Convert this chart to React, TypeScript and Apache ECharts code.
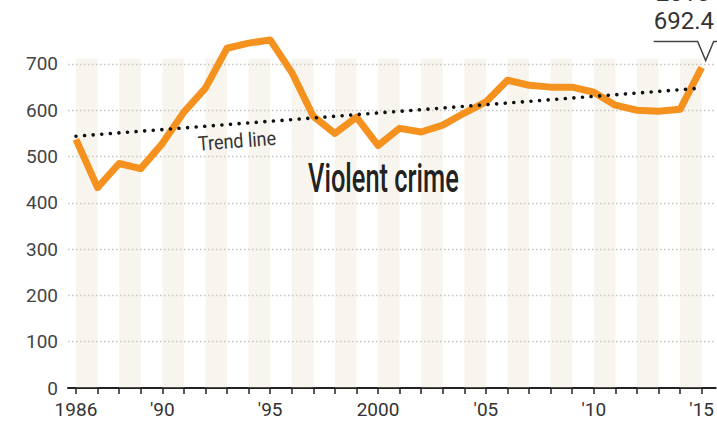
import React, { useEffect, useRef } from "react";
import * as echarts from "echarts";

const years = [
  1986, 1987, 1988, 1989, 1990, 1991, 1992, 1993, 1994, 1995,
  1996, 1997, 1998, 1999, 2000, 2001, 2002, 2003, 2004, 2005,
  2006, 2007, 2008, 2009, 2010, 2011, 2012, 2013, 2014, 2015,
];
const violentCrime = [
  537, 433, 485, 474, 528, 596, 648, 734, 745, 752,
  682, 587, 550, 585, 524, 561, 553, 568, 594, 618,
  665, 654, 650, 650, 639, 611, 600, 598, 602, 692.4,
];
const trendYears = [1986, 2015];
const trendValues = [544, 648];
const xLabelYears = [1986, 1990, 1995, 2000, 2005, 2010, 2015];
const bandStartYears = [1986, 1988, 1990, 1992, 1994, 1996, 1998, 2000, 2002, 2004, 2006, 2008, 2010, 2012, 2014];
const bandTopValue = 712;
const calloutYear = 2015;
const calloutValue = 692.4;

const FONT = '"Roboto", sans-serif';

export default function App() {
  const ref = useRef<HTMLDivElement>(null);
  useEffect(() => {
    if (!ref.current) return;
    const chart = echarts.init(ref.current, null, { renderer: "svg" });
    const option: any = {
      animation: false,
      backgroundColor: "#ffffff",
      grid: { left: 68, right: 0, top: 17.7, bottom: 36, containLabel: false },
      xAxis: {
        type: "value",
        min: 1985.63,
        max: 2015.65,
        axisLine: { show: true, lineStyle: { color: "#222", width: 2 } },
        axisTick: {
          show: true,
          customValues: years,
          length: 6,
          lineStyle: { color: "#222", width: 1.5 },
        },
        axisLabel: {
          customValues: xLabelYears,
          color: "#333",
          fontSize: 19,
          fontFamily: FONT,
          margin: 12,
          formatter: (v: number) =>
            v === 1986 || v === 2000 ? String(v) : "'" + String(v).slice(2),
        },
        splitLine: { show: false },
      },
      yAxis: {
        type: "value",
        min: 0,
        max: 800,
        interval: 100,
        axisLine: { show: false },
        axisTick: { show: false },
        axisLabel: {
          color: "#444",
          fontSize: 19,
          fontFamily: FONT,
          margin: 10,
          showMaxLabel: false,
        },
        splitLine: {
          show: true,
          showMaxLine: false,
          showMinLine: false,
          lineStyle: { color: "#c4c4c4", width: 1.3, type: [1.5, 2.5] },
        },
      },
      series: [
        {
          type: "line",
          name: "Violent crime",
          data: years.map((y, i) => [y, violentCrime[i]]),
          symbol: "none",
          lineStyle: { color: "#F5921F", width: 7, join: "round" },
          z: 3,
          markArea: {
            silent: true,
            itemStyle: { color: "rgba(221,212,184,0.24)" },
            data: bandStartYears.map((s) => [
              { xAxis: s, yAxis: 0 },
              { xAxis: s + 1, yAxis: bandTopValue },
            ]),
          },
        },
        {
          type: "line",
          name: "Trend line",
          data: trendYears.map((y, i) => [y, trendValues[i]]),
          symbol: "none",
          lineStyle: { color: "#111", width: 3.6, type: [0.01, 8.6], cap: "round" },
          z: 4,
        },
      ],
    };
    chart.setOption(option);
    const p = chart.convertToPixel({ gridIndex: 0 }, [calloutYear, calloutValue]) as number[];
    const tipX = p[0] + 4;
    const tipY = p[1] - 7;
    const armY = tipY - 19;
    chart.setOption({
      graphic: [
        {
          type: "polyline",
          shape: {
            points: [
              [tipX - 52, armY],
              [tipX - 8, armY],
              [tipX, tipY],
              [tipX + 8, armY],
              [tipX + 40, armY],
            ],
          },
          style: { stroke: "#444", lineWidth: 1.5, fill: null },
          z: 10,
        },
        {
          type: "text",
          x: tipX - 52,
          y: armY - 21,
          style: {
            text: String(calloutValue),
            fill: "#333",
            font: '24px "Roboto", sans-serif',
            verticalAlign: "middle",
            align: "left",
          },
          z: 10,
        },
        {
          type: "text",
          x: tipX - 50,
          y: armY - 49,
          style: {
            text: String(calloutYear),
            fill: "#333",
            font: '24px "Roboto", sans-serif',
            verticalAlign: "middle",
            align: "left",
          },
          z: 10,
        },
        {
          type: "text",
          x: 237,
          y: 141,
          rotation: 0.075,
          scaleX: 0.9,
          style: {
            text: "Trend line",
            fill: "#333",
            font: '20px "Roboto", sans-serif',
            align: "center",
            verticalAlign: "middle",
          },
          z: 10,
        },
        {
          type: "text",
          x: 308,
          y: 178,
          scaleX: 0.62,
          style: {
            text: "Violent crime",
            fill: "#222",
            font: '500 41px "Roboto", sans-serif',
            align: "left",
            verticalAlign: "middle",
          },
          z: 10,
        },
      ],
    });
    return () => chart.dispose();
  }, []);
  return (
    <div
      ref={ref}
      style={{ position: "absolute", left: 0, top: 0, width: 717, height: 424 }}
    />
  );
}
